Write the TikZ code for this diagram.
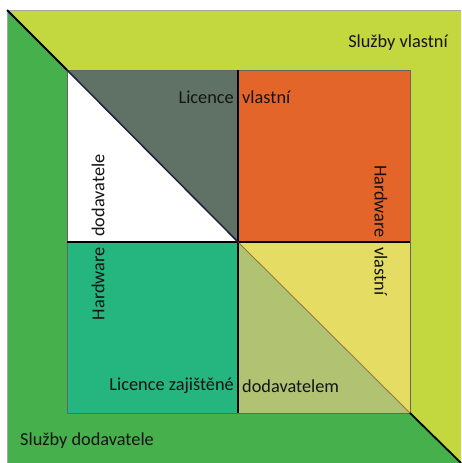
\documentclass[tikz,border=0pt]{standalone}
\usepackage{fontspec}
\setmainfont{Carlito}
\definecolor{lightg}{HTML}{C3D73F}
\definecolor{outg}{HTML}{45B04C}
\definecolor{darkq}{HTML}{5F7265}
\definecolor{orangeq}{HTML}{E3652A}
\definecolor{tealq}{HTML}{25B57F}
\definecolor{yellq}{HTML}{E5DC63}
\definecolor{oliveq}{HTML}{B1C372}
\definecolor{navy}{HTML}{1F2040}
\begin{document}
\begin{tikzpicture}[x=1pt,y=-1pt,
  lbl/.style={inner sep=0pt,font=\fontsize{18.3}{21}\selectfont,text=black!92}]
\useasboundingbox (0,0) rectangle (461,463);
\fill[white] (0,0) rectangle (461,463);
% outer square
\coordinate (OTL) at (7,10);
\coordinate (OTR) at (461,10);
\coordinate (OBL) at (7,463);
\coordinate (OBR) at (461,463);
\fill[lightg] (OTL) -- (OTR) -- (OBR) -- cycle;
\fill[outg] (OTL) -- (OBL) -- (OBR) -- cycle;
\draw[gray!70,line width=0.8pt] (OBL) -- (OTL) -- (OTR);
% inner square
\coordinate (ITL) at (67,70);
\coordinate (ITR) at (410,70);
\coordinate (IBL) at (67,413);
\coordinate (IBR) at (410,413);
\coordinate (C) at (238,242);
\coordinate (CT) at (238,70);
\coordinate (CB) at (238,413);
\coordinate (CL) at (67,242);
\coordinate (CR) at (410,242);
\fill[white] (ITL) -- (CL) -- (C) -- cycle;
\fill[darkq] (ITL) -- (CT) -- (C) -- cycle;
\fill[orangeq] (CT) rectangle (CR);
\fill[tealq] (CL) rectangle (CB);
\fill[yellq] (C) -- (CR) -- (IBR) -- cycle;
\fill[oliveq] (C) -- (CB) -- (IBR) -- cycle;
\draw[black!60,line width=0.8pt] (ITL) rectangle (IBR);
\draw[black,line width=1.2pt] (CT) -- (CB);
\draw[black,line width=1.2pt] (CL) -- (CR);
% diagonals
\draw[black,line width=1.8pt] (OTL) -- (ITL);
\draw[navy,line width=1.5pt] (ITL) -- (C);
\draw[brown!70!black,line width=0.9pt,opacity=0.7] (C) -- (IBR);
\draw[black,line width=1.8pt] (IBR) -- (OBR);
% labels
\node[lbl,anchor=east] (sv) at (448,43) {Služby vlastní};
\node[lbl,anchor=east] (lic1) at (234,97) {Licence};
\node[lbl,anchor=west] (vl1) at (242,97) {vlastní};
\node[lbl,anchor=east,rotate=-90] (hw1) at (381,238) {Hardware};
\node[lbl,anchor=west,rotate=-90] (vl2) at (381,247) {vlastní};
\node[lbl,anchor=west,rotate=90] (dod1) at (98,237) {dodavatele};
\node[lbl,anchor=east,rotate=90] (hw2) at (98,247) {Hardware};
\node[lbl,anchor=east] (lic2) at (234,386) {Licence zajištěné};
\node[lbl,anchor=west] (dod2) at (242,386) {dodavatelem};
\node[lbl,anchor=west] (sd) at (20,441) {Služby dodavatele};
\end{tikzpicture}
\end{document}
